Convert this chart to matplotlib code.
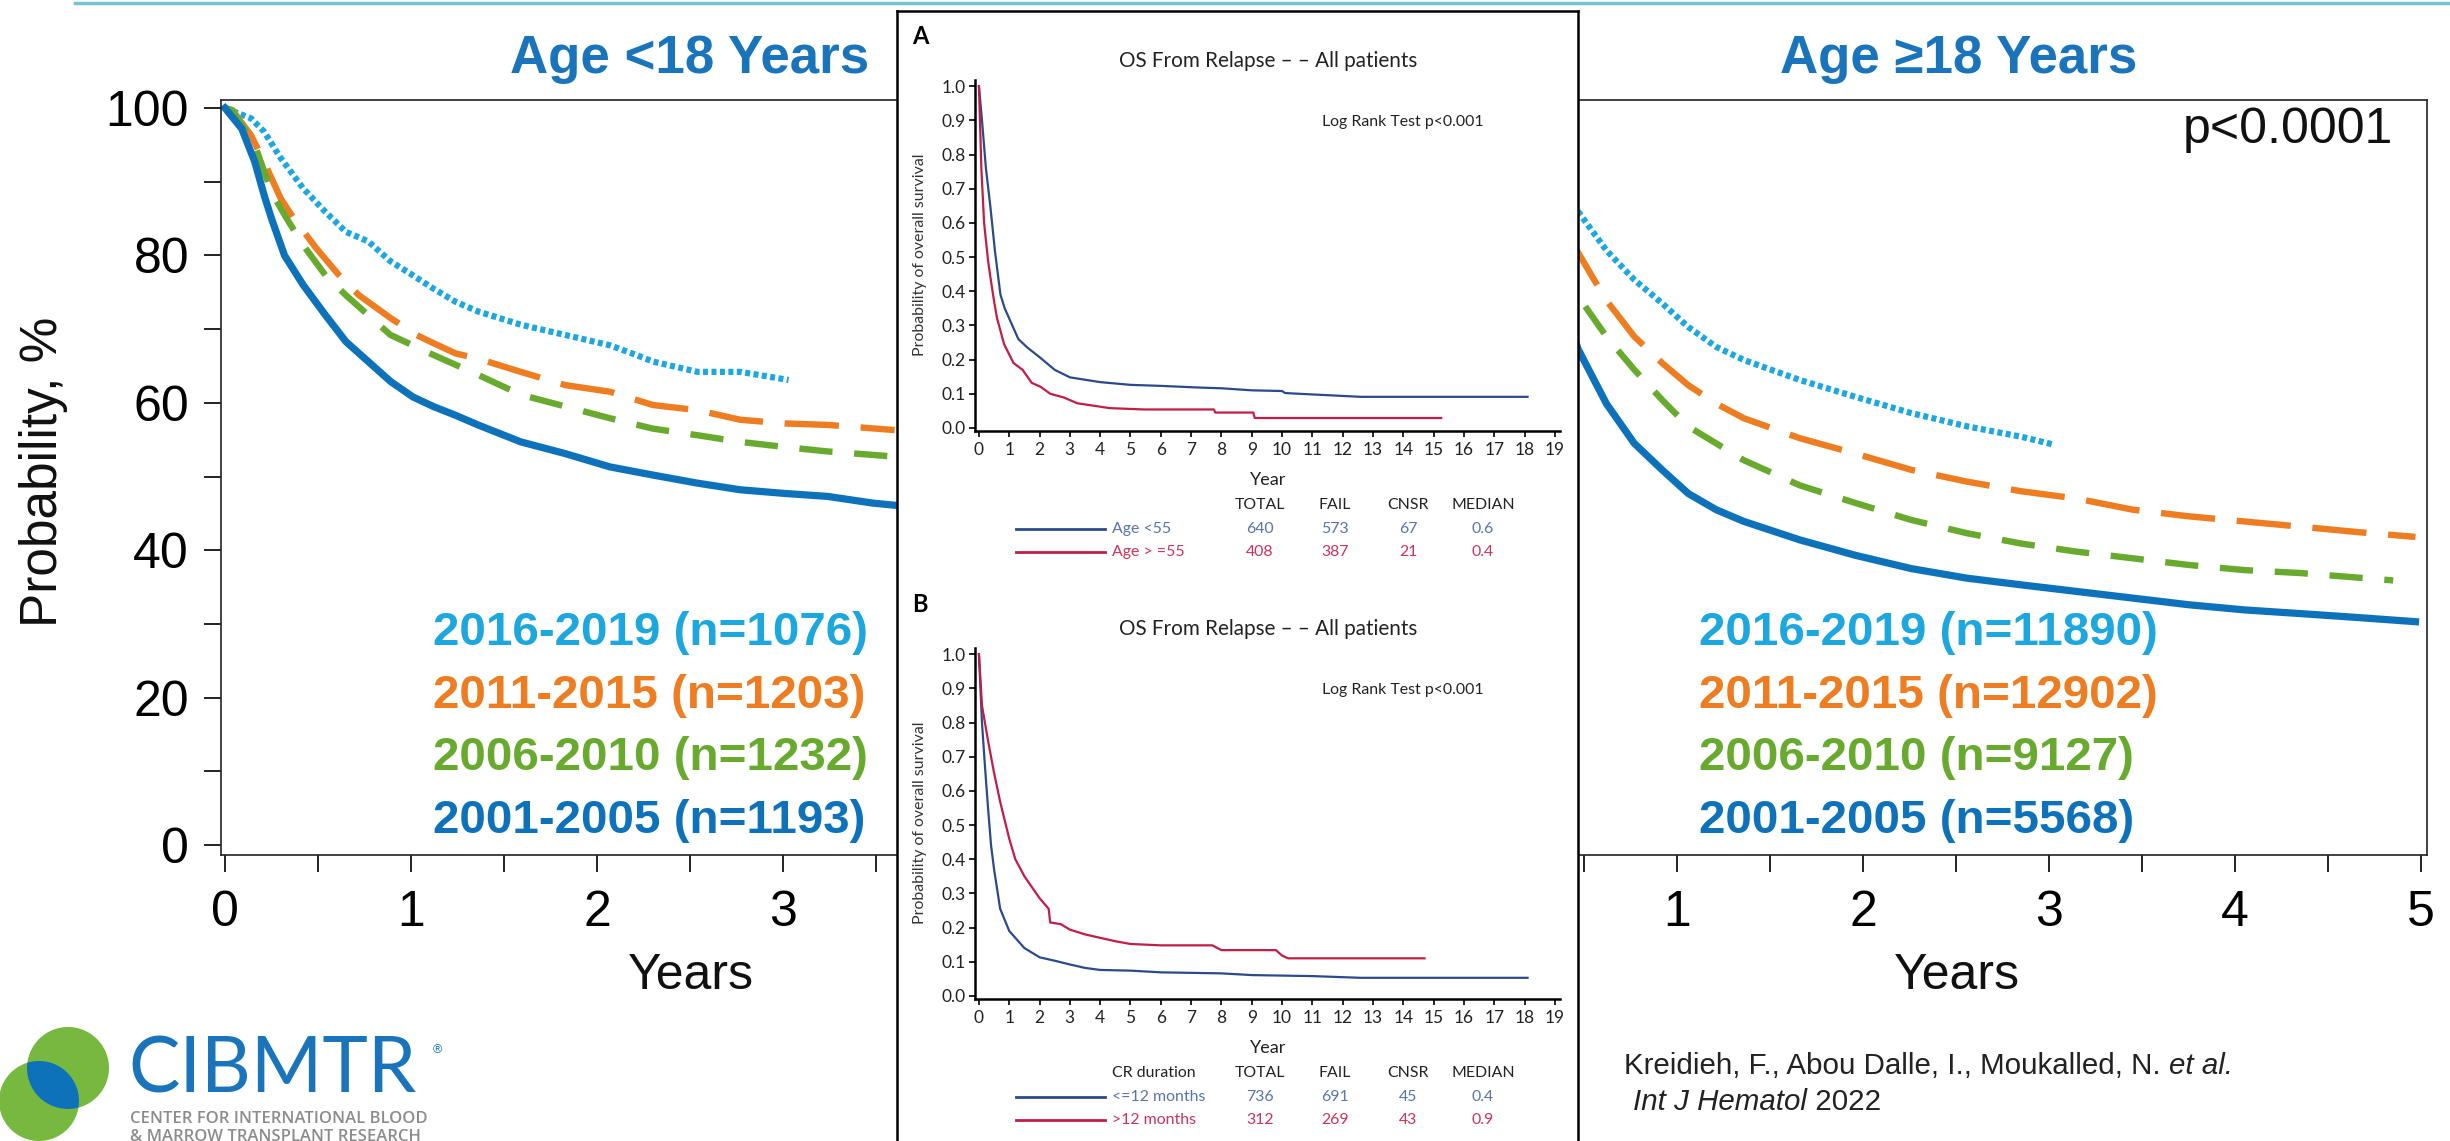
import numpy as np
import matplotlib
matplotlib.use("Agg")
import matplotlib.pyplot as plt
from matplotlib.lines import Line2D
from matplotlib.patches import Circle
from matplotlib.ticker import MultipleLocator, FormatStrFormatter, FuncFormatter

W, H = 2450, 1141

# ---------------- data ----------------
ERAS = ["2016-2019", "2011-2015", "2006-2010", "2001-2005"]
N_YOUNG = [1076, 1203, 1232, 1193]
N_ADULT = [11890, 12902, 9127, 5568]

# Age < 18: years vs probability (%)
young_t_1619 = [0.0, 0.14, 0.21, 0.30, 0.42, 0.54, 0.65, 0.77, 0.89, 1.01, 1.12, 1.24, 1.36, 1.59, 1.83, 2.07, 2.21, 2.30, 2.54, 2.77, 3.03]
young_s_1619 = [100, 98.6, 96.8, 93.2, 89.1, 85.9, 83.2, 81.9, 79.2, 77.3, 75.5, 73.7, 72.4, 70.6, 69.2, 67.8, 66.5, 65.6, 64.2, 64.2, 63.1]
young_t_1115 = [0.0, 0.04, 0.14, 0.21, 0.30, 0.37, 0.49, 0.61, 0.72, 0.89, 1.03, 1.12, 1.24, 1.36, 1.59, 1.83, 2.07, 2.30, 2.54, 2.77, 3.01, 3.24, 3.60]
young_s_1115 = [100, 99.7, 96.3, 92.7, 87.7, 85.0, 81.0, 77.4, 74.6, 71.5, 69.2, 68.1, 66.7, 66.0, 64.2, 62.4, 61.5, 59.7, 59.0, 57.7, 57.2, 57.0, 56.3]
young_t_0610 = [0.0, 0.04, 0.16, 0.25, 0.32, 0.42, 0.54, 0.65, 0.77, 0.89, 1.01, 1.12, 1.36, 1.59, 1.83, 2.07, 2.30, 2.54, 2.77, 3.01, 3.24, 3.60]
young_s_0610 = [100, 99.7, 95.0, 88.6, 85.5, 81.4, 77.3, 74.6, 71.9, 69.2, 67.8, 66.5, 63.8, 61.1, 59.5, 57.9, 56.5, 55.6, 54.7, 54.0, 53.4, 52.7]
young_t_0105 = [0.0, 0.09, 0.16, 0.21, 0.25, 0.32, 0.42, 0.54, 0.65, 0.77, 0.89, 1.01, 1.12, 1.24, 1.36, 1.48, 1.59, 1.83, 2.07, 2.30, 2.54, 2.77, 3.01, 3.24, 3.48, 3.60]
young_s_0105 = [100, 97.2, 92.7, 88.2, 85.0, 80.0, 76.0, 71.9, 68.3, 65.6, 62.9, 60.8, 59.5, 58.3, 57.0, 55.8, 54.7, 53.1, 51.3, 50.2, 49.1, 48.2, 47.7, 47.3, 46.4, 46.1]

# Age >= 18
adult_t_1619 = [0.0, 0.47, 0.62, 0.77, 0.92, 1.06, 1.21, 1.36, 1.66, 1.96, 2.26, 2.56, 2.85, 3.03]
adult_s_1619 = [100, 85.9, 80.7, 76.7, 73.5, 70.3, 67.6, 65.8, 63.1, 60.8, 58.6, 56.8, 55.4, 54.3]
adult_t_1115 = [0.0, 0.47, 0.62, 0.77, 0.92, 1.06, 1.21, 1.36, 1.66, 1.96, 2.26, 2.56, 2.85, 3.15, 3.45, 3.75, 4.05, 4.35, 4.64, 4.97]
adult_s_1115 = [100, 80.3, 73.9, 69.0, 65.4, 62.4, 59.9, 57.9, 55.2, 53.1, 50.9, 49.3, 48.0, 47.0, 45.5, 44.6, 43.9, 43.2, 42.5, 41.8]
adult_t_0610 = [0.0, 0.47, 0.62, 0.77, 0.92, 1.06, 1.21, 1.36, 1.66, 1.96, 2.26, 2.56, 2.85, 3.15, 3.45, 3.75, 4.05, 4.35, 4.85]
adult_s_0610 = [100, 74.4, 69.0, 64.5, 60.4, 56.8, 54.5, 52.2, 48.8, 46.4, 44.1, 42.3, 40.9, 39.8, 38.9, 38.0, 37.3, 36.9, 35.9]
adult_t_0105 = [0.0, 0.47, 0.62, 0.77, 0.92, 1.06, 1.21, 1.36, 1.66, 1.96, 2.26, 2.56, 2.85, 3.15, 3.45, 3.75, 4.05, 4.35, 4.64, 4.97]
adult_s_0105 = [100, 67.2, 59.9, 54.5, 50.9, 47.7, 45.5, 43.9, 41.4, 39.3, 37.5, 36.2, 35.3, 34.4, 33.5, 32.6, 31.9, 31.4, 30.9, 30.3]

# inset A: OS from relapse by age
a_t_lt55 = [0, 0.1, 0.23, 0.38, 0.53, 0.71, 0.85, 1.0, 1.3, 1.6, 2.0, 2.5, 3.0, 4.0, 5.0, 6.0, 7.3, 8.0, 9.0, 10.0, 10.1, 11.0, 12.6, 18.1]
a_s_lt55 = [1.0, 0.90, 0.76, 0.645, 0.516, 0.39, 0.35, 0.32, 0.26, 0.235, 0.207, 0.17, 0.148, 0.134, 0.126, 0.123, 0.118, 0.116, 0.110, 0.108, 0.102, 0.098, 0.091, 0.091]
a_t_ge55 = [0, 0.08, 0.17, 0.3, 0.38, 0.5, 0.6, 0.83, 1.14, 1.44, 1.74, 2.04, 2.35, 2.8, 3.25, 3.86, 4.3, 5.45, 7.75, 7.8, 9.05, 9.1, 15.25]
a_s_ge55 = [1.0, 0.76, 0.60, 0.49, 0.44, 0.37, 0.32, 0.245, 0.19, 0.17, 0.132, 0.12, 0.10, 0.089, 0.072, 0.064, 0.058, 0.054, 0.054, 0.045, 0.045, 0.029, 0.029]
A_ROWS = [["Age <55", "640", "573", "67", "0.6"],
          ["Age > =55", "408", "387", "21", "0.4"]]

# inset B: OS from relapse by CR duration
b_t_short = [0, 0.1, 0.2, 0.3, 0.4, 0.5, 0.7, 1.0, 1.5, 2.0, 2.5, 3.0, 3.5, 4.0, 5.0, 6.0, 8.0, 9.0, 11.0, 12.6, 18.1]
b_s_short = [1.0, 0.80, 0.67, 0.55, 0.44, 0.37, 0.255, 0.19, 0.14, 0.113, 0.103, 0.092, 0.082, 0.076, 0.074, 0.069, 0.066, 0.061, 0.058, 0.053, 0.053]
b_t_long = [0, 0.1, 0.3, 0.5, 0.7, 1.0, 1.2, 1.5, 2.0, 2.3, 2.35, 2.7, 3.0, 3.5, 4.0, 4.5, 5.0, 6.0, 7.7, 8.0, 9.8, 10.0, 10.2, 14.7]
b_s_long = [1.0, 0.85, 0.747, 0.652, 0.568, 0.46, 0.40, 0.35, 0.286, 0.255, 0.215, 0.21, 0.194, 0.18, 0.17, 0.16, 0.152, 0.148, 0.148, 0.134, 0.134, 0.118, 0.11, 0.11]
B_ROWS = [["<=12 months", "736", "691", "45", "0.4"],
          [">12 months", "312", "269", "43", "0.9"]]
TABLE_HEAD = ["TOTAL", "FAIL", "CNSR", "MEDIAN"]

# ---------------- styling ----------------
ERA_COLORS = ["#1ca7de", "#ee7d22", "#68aa2e", "#0d72ba"]
ERA_LINES = [((0, (0.8, 0.55)), 4.5), ((0, (8.5, 3.4)), 4.6), ((0, (5.2, 3.4)), 4.6), ("-", 5.2)]
TITLE_BLUE = "#1a74bb"
NAVY = "#2b4a8b"
CRIMSON = "#c11d45"
NAVY_TXT = "#5873ad"
CRIMSON_TXT = "#cd3257"
SANS = "Liberation Sans"
INSET_FONT = "Lato"

plt.rcParams["font.family"] = SANS

fig = plt.figure(figsize=(W / 100, H / 100), dpi=100)
rend = fig.canvas.get_renderer()


def put(x, y, s, **kw):
    kw.setdefault("zorder", 10)
    return fig.text(x / W, 1 - y / H, s, **kw)


def fit_size(s, target_w, **kw):
    # font size that makes s about target_w pixels wide
    t = fig.text(0, 0, s, fontsize=20, **kw)
    w = t.get_window_extent(renderer=rend).width
    t.remove()
    return 20 * target_w / w


def era_panel(rect, series, ns, legend_x, legend_size, hide):
    ax = fig.add_axes(rect)
    for (t, s), col, (ls, lw) in zip(series, ERA_COLORS, ERA_LINES):
        ax.plot(t, s, color=col, lw=lw, linestyle=ls, dash_capstyle="butt")
    ax.set_xlim(-0.0215, 5.032)
    ax.set_ylim(-1.36, 101.09)
    ax.xaxis.set_major_locator(MultipleLocator(1))
    ax.xaxis.set_minor_locator(MultipleLocator(0.5))
    ax.yaxis.set_major_locator(MultipleLocator(20))
    ax.yaxis.set_minor_locator(MultipleLocator(10))
    # labels that sit under the inset are left blank
    ax.xaxis.set_major_formatter(FuncFormatter(lambda v, p: "" if hide(v) else f"{v:g}"))
    ax.tick_params(which="both", direction="out", length=12, width=1.4, color="#222")
    ax.tick_params(axis="x", labelsize=36, pad=13)
    ax.tick_params(axis="y", labelsize=36, pad=11)
    for sp in ax.spines.values():
        sp.set_linewidth(1.2)
        sp.set_color("#222")
    for i, (era, n, col) in enumerate(zip(ERAS, ns, ERA_COLORS)):
        put(legend_x, 633 + 62.7 * i, f"{era} (n={n})", color=col, fontsize=legend_size,
            fontweight="bold", va="center", ha="left")
    return ax


leg_size = fit_size("2016-2019 (n=1076)", 434, fontweight="bold")
ax_l = era_panel([221 / W, (H - 855) / H, 940 / W, 755 / H],
                 [(young_t_1619, young_s_1619), (young_t_1115, young_s_1115),
                  (young_t_0610, young_s_0610), (young_t_0105, young_s_0105)],
                 N_YOUNG, 433, leg_size, lambda v: v > 3.5)
ax_r = era_panel([1487 / W, (H - 855) / H, 940 / W, 755 / H],
                 [(adult_t_1619, adult_s_1619), (adult_t_1115, adult_s_1115),
                  (adult_t_0610, adult_s_0610), (adult_t_0105, adult_s_0105)],
                 N_ADULT, 1699, leg_size, lambda v: v < 0.5)
ax_r.tick_params(axis="y", labelleft=False)

title_size = fit_size("Age <18 Years", 359, fontweight="bold")
put(690, 59, "Age <18 Years", color=TITLE_BLUE, fontsize=title_size, fontweight="bold",
    ha="center", va="center")
put(1959, 59, "Age \u226518 Years", color=TITLE_BLUE, fontsize=title_size, fontweight="bold",
    ha="center", va="center")
put(2393, 130, "p<0.0001", fontsize=36, ha="right", va="center", color="#111")
put(44, 472, "Probability, %", fontsize=37, rotation=90, ha="center", va="center", color="#111")
put(691, 976, "Years", fontsize=36, ha="center", va="center", color="#111")
put(1957, 976, "Years", fontsize=36, ha="center", va="center", color="#111")

# teal rule at the top of the slide
fig.add_artist(Line2D([75 / W, 1], [1 - 3 / H, 1 - 3 / H], color="#78c2d1", lw=2.5))

# ---------------- inset with the two OS-from-relapse panels ----------------
bg = fig.add_axes([897 / W, 0, (1578 - 897) / W, (H - 11) / H], zorder=5)
bg.set_facecolor("white")
bg.set_xticks([])
bg.set_yticks([])
for side, sp in bg.spines.items():
    sp.set_linewidth(1.8)
    sp.set_visible(side != "bottom")

fk = dict(family=INSET_FONT)
TITLE_TXT = "OS From Relapse \u2013 \u2013 All patients"
inset_title = fit_size(TITLE_TXT, 298, **fk)
logrank_size = fit_size("Log Rank Test p<0.001", 161, **fk)
ylab_size = fit_size("Probability of overall survival", 203, **fk)
table_size = fit_size("MEDIAN", 63, **fk)


def os_panel(top_px, curves, colors, label, rows, head_first=None):
    bottom_px = top_px + 351
    ax = fig.add_axes([975 / W, (H - bottom_px) / H, 585 / W, 351 / H], zorder=6)
    ax.set_facecolor("none")
    for (t, s), c in zip(curves, colors):
        ax.plot(t, s, color=c, lw=1.6)
    ax.set_xlim(-0.13, 19.17)
    ax.set_ylim(-0.009, 1.018)
    ax.set_xticks(range(20))
    ax.set_yticks(np.arange(0, 1.01, 0.1))
    ax.yaxis.set_major_formatter(FormatStrFormatter("%.1f"))
    ax.spines[["top", "right"]].set_visible(False)
    for sp in ax.spines.values():
        sp.set_linewidth(1.8)
    ax.tick_params(direction="out", length=4, width=1.3, labelsize=12.5, color="#111",
                   labelcolor="#222")
    ax.tick_params(axis="x", pad=4)
    ax.tick_params(axis="y", pad=3)
    for lab in ax.get_xticklabels() + ax.get_yticklabels():
        lab.set_fontfamily(INSET_FONT)

    y0 = top_px - 80  # offset from the layout of panel A
    put(920, 37 + y0, label, fontsize=17, fontweight="bold", ha="center", va="center", **fk)
    put(1268, 61 + y0, TITLE_TXT, fontsize=inset_title, ha="center", va="center",
        color="#222", **fk)
    put(1322, 122 + y0, "Log Rank Test p<0.001", fontsize=logrank_size, ha="left",
        va="center", color="#222", **fk)
    put(920, 255 + y0, "Probability of overall survival", fontsize=ylab_size, rotation=90,
        ha="center", va="center", color="#333", **fk)
    put(1268, 480 + y0, "Year", fontsize=13, ha="center", va="center", color="#222", **fk)
    cols = [1260, 1335, 1408, 1483]
    hy = 505 + y0
    if head_first:
        put(1112, hy, head_first, fontsize=table_size, ha="left", va="center", color="#222", **fk)
    for cx, h in zip(cols, TABLE_HEAD):
        put(cx, hy, h, fontsize=table_size, ha="center", va="center", color="#222", **fk)
    for i, (row, c, tc) in enumerate(zip(rows, colors, [NAVY_TXT, CRIMSON_TXT])):
        ry = 529 + 23 * i + y0
        fig.add_artist(Line2D([1016 / W, 1105 / W], [1 - ry / H] * 2, color=c, lw=2.0, zorder=10))
        put(1112, ry, row[0], fontsize=table_size, ha="left", va="center", color=tc, **fk)
        for cx, v in zip(cols, row[1:]):
            put(cx, ry, v, fontsize=table_size, ha="center", va="center", color=tc, **fk)
    return ax


os_panel(80, [(a_t_lt55, a_s_lt55), (a_t_ge55, a_s_ge55)], [NAVY, CRIMSON], "A", A_ROWS)
os_panel(648, [(b_t_short, b_s_short), (b_t_long, b_s_long)], [NAVY, CRIMSON], "B", B_ROWS,
         head_first="CR duration")

# ---------------- CIBMTR logo and citation ----------------
lg = fig.add_axes([0, 0, 480 / W, 141 / H], zorder=2)
lg.set_xlim(0, 480)
lg.set_ylim(1141, 1000)
lg.axis("off")
c1 = Circle((68, 1068), 41, color="#77b83f", lw=0)
c2 = Circle((39, 1101), 40, color="#77b83f", lw=0)
lens = Circle((39, 1101), 40, color="#0d72ba", lw=0)
for p in (c1, c2, lens):
    lg.add_patch(p)
lens.set_clip_path(c1)

logo_size = fit_size("CIBMTR", 288, family="Lato")
put(128, 1071, "CIBMTR", fontsize=logo_size, family="Lato", color="#1a74bb",
    ha="left", va="center")
put(433, 1050, "\u00ae", fontsize=9, color="#1a74bb", ha="left", va="center")
sub_size = fit_size("CENTER FOR INTERNATIONAL BLOOD", 297, family="Open Sans", fontweight="semibold")
put(130, 1119, "CENTER FOR INTERNATIONAL BLOOD", fontsize=sub_size, family="Open Sans",
    fontweight="semibold", color="#8c8c8c", ha="left", va="center")
put(130, 1137, "& MARROW TRANSPLANT RESEARCH", fontsize=sub_size, family="Open Sans",
    fontweight="semibold", color="#8c8c8c", ha="left", va="center")

CITE_1 = "Kreidieh, F., Abou Dalle, I., Moukalled, N. "
cite_size = 20 * 608 / (100 * 20 / fit_size(CITE_1, 100) + 100 * 20 / fit_size("et al.", 100, style="italic"))
cite = put(1624, 1066, CITE_1, fontsize=cite_size, ha="left", va="center", color="#222")
bb = cite.get_window_extent(renderer=rend)
fig.text(bb.x1 / W, 1 - 1066 / H, "et al.", fontsize=cite_size, style="italic", ha="left",
         va="center", color="#222", zorder=10)
j1 = put(1633, 1102, "Int J Hematol", fontsize=cite_size, style="italic", ha="left",
         va="center", color="#222")
bb = j1.get_window_extent(renderer=rend)
fig.text(bb.x1 / W, 1 - 1102 / H, " 2022", fontsize=cite_size, ha="left", va="center",
         color="#222", zorder=10)

fig.savefig("out.png", dpi=100)
